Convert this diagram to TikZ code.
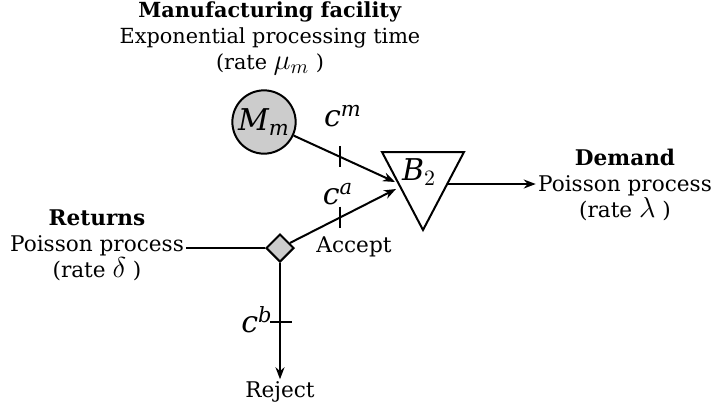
\documentclass[tikz,border=0pt]{standalone}
\usepackage{fontspec}
\setmainfont{DejaVu Serif}
\usetikzlibrary{shapes.geometric,arrows.meta,positioning,calc}

\newcommand{\ratesym}[1]{{\fontsize{14}{13}\selectfont$#1$}}

\begin{document}
\begin{tikzpicture}[
    x=0.5pt, y=-0.5pt,
    txt/.style={align=center, font=\fontsize{10.8}{13}\selectfont, inner sep=1pt},
    toptxt/.style={txt, font=\fontsize{10.4}{13}\selectfont},
    lbl/.style={font=\fontsize{15}{17}\selectfont, inner sep=1pt},
    flow/.style={->, >={Stealth[length=6pt,width=4.5pt]}, line width=1pt},
    tickmark/.style={line width=0.9pt}
]
    \useasboundingbox (0,0) rectangle (712,408);

    % stations
    \node[circle, draw, line width=1pt, fill=black!20, minimum size=28pt,
        inner sep=0pt, lbl] (mfg) at (264,122) {$\mathit{M}_{\mathit{m}}$};
    \node[diamond, draw, line width=1pt, fill=black!20, minimum size=14pt,
        inner sep=0pt] (split) at (280,248) {};
    \draw[line width=1pt] (382,152) -- (464,152) -- (423,230) -- cycle;
    \node[lbl] (buf) at (419,172) {$\mathit{B}_{2}$};
    \coordinate (bin1) at (395,182);
    \coordinate (bin2) at (396,189);
    \coordinate (bout) at (447,184);

    % texts
    \node[toptxt] (mfgtxt) at (270,38) {\textbf{Manufacturing facility}\\
        Exponential processing time\\(rate \ratesym{\mu_m} )};
    \node[txt] (ret) at (97,245) {\textbf{Returns}\\Poisson process\\
        (rate \ratesym{\delta} )};
    \node[txt] (dem) at (625,185) {\textbf{Demand}\\Poisson process\\
        (rate \ratesym{\lambda} )};
    \node[txt] (rej) at (280,392) {Reject};
    \node[txt] (acc) at (354,247) {Accept};

    % flows
    \draw[flow] (mfg) -- (bin1);
    \draw[flow] (split) -- (bin2);
    \draw[flow] (split) -- (rej.north);
    \draw[flow] (bout) -- (bout -| dem.west);
    \draw[line width=1pt] (split.west) -- (split.west -| ret.east);

    % cost ticks
    \path (mfg.center) -- (bin1) coordinate[pos=0.58] (tm);
    \path (split.center) -- (bin2) coordinate[pos=0.517] (ta);
    \coordinate (tb) at (281,322);
    \draw[tickmark] ($(tm)+(0,-11)$) -- ($(tm)+(0,10)$);
    \draw[tickmark] ($(ta)+(0,-11)$) -- ($(ta)+(0,10)$);
    \draw[tickmark] ($(tb)+(-11,0)$) -- ($(tb)+(11,0)$);
    \node[lbl] (cm) at (343,116) {$\mathit{c}^{\mathit{m}}$};
    \node[lbl] (ca) at (338,194) {$\mathit{c}^{\mathit{a}}$};
    \node[lbl] (cb) at (257,320) {$\mathit{c}^{\mathit{b}}$};
\end{tikzpicture}
\end{document}
